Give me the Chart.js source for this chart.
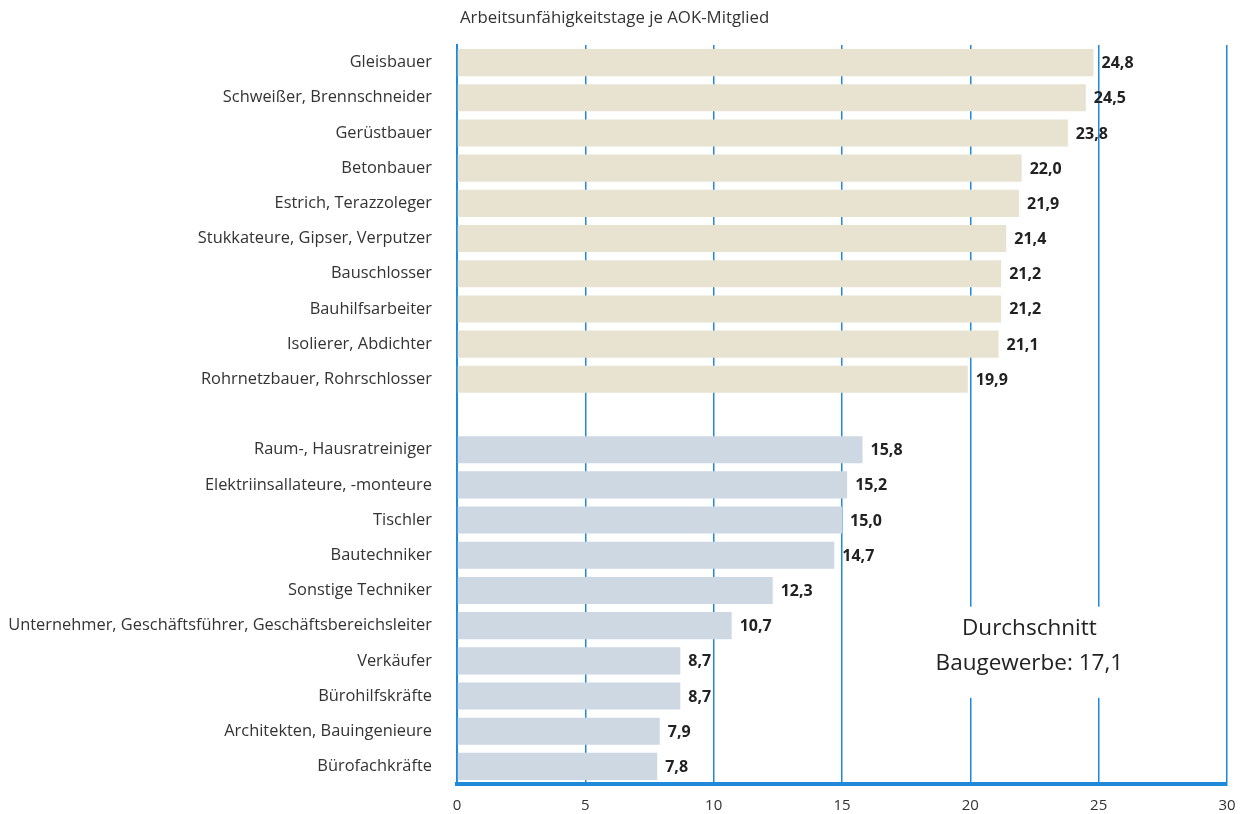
<!DOCTYPE html>
<html>
<head>
<meta charset="utf-8">
<script src="https://cdn.jsdelivr.net/npm/chart.js@4.4.0/dist/chart.umd.min.js"></script>
<style>
  html, body { margin: 0; padding: 0; background: #fff; }
  #wrap { width: 1244px; height: 814px; }
</style>
</head>
<body>
<div id="wrap"><canvas id="aokChart" width="1244" height="814"></canvas></div>
<script>
const categories = [
  "Gleisbauer",
  "Schweißer, Brennschneider",
  "Gerüstbauer",
  "Betonbauer",
  "Estrich, Terazzoleger",
  "Stukkateure, Gipser, Verputzer",
  "Bauschlosser",
  "Bauhilfsarbeiter",
  "Isolierer, Abdichter",
  "Rohrnetzbauer, Rohrschlosser",
  "",
  "Raum-, Hausratreiniger",
  "Elektriinsallateure, -monteure",
  "Tischler",
  "Bautechniker",
  "Sonstige Techniker",
  "Unternehmer, Geschäftsführer, Geschäftsbereichsleiter",
  "Verkäufer",
  "Bürohilfskräfte",
  "Architekten, Bauingenieure",
  "Bürofachkräfte"
];

// gewerbliche Berufe (oben) und Angestellte (unten)
const tradeValues = [24.8, 24.5, 23.8, 22.0, 21.9, 21.4, 21.2, 21.2, 21.1, 19.9,
  null, null, null, null, null, null, null, null, null, null, null];
const officeValues = [null, null, null, null, null, null, null, null, null, null,
  null, 15.8, 15.2, 15.0, 14.7, 12.3, 10.7, 8.7, 8.7, 7.9, 7.8];

const xTicks = [0, 5, 10, 15, 20, 25, 30];
const averageValue = 17.1;

const fontFamily = "'Open Sans', 'Noto Sans', sans-serif";
const blue = "#1f8ad9";

function fmt(v) {
  return v.toFixed(1).replace(".", ",");
}

const topTitle = {
  id: "topTitle",
  afterDraw(chart) {
    const c = chart.ctx;
    c.save();
    c.font = "16.8px " + fontFamily;
    c.fillStyle = "#333";
    c.textAlign = "left";
    c.textBaseline = "middle";
    c.fillText("Arbeitsunfähigkeitstage je AOK-Mitglied", chart.chartArea.left + 3, 18);
    c.restore();
  }
};

const averageBox = {
  id: "averageBox",
  beforeDatasetsDraw(chart) {
    const c = chart.ctx;
    const x = chart.scales.x;
    const y = chart.scales.y;
    const cx = x.getPixelForValue(22.3);
    const y1 = y.getPixelForValue(16);
    const y2 = y.getPixelForValue(17);
    c.save();
    c.fillStyle = "#fff";
    c.fillRect(cx - 110, y1 - 19, 220, y2 - y1 + 56);
    c.font = "22.5px " + fontFamily;
    c.fillStyle = "#222";
    c.textAlign = "center";
    c.textBaseline = "middle";
    c.fillText("Durchschnitt", cx, y1 + 3);
    c.fillText("Baugewerbe: " + fmt(averageValue), cx, y2 + 3);
    c.restore();
  }
};

const valueLabels = {
  id: "valueLabels",
  afterDatasetsDraw(chart) {
    const c = chart.ctx;
    c.save();
    c.font = "bold 16px " + fontFamily;
    c.fillStyle = "#222";
    c.textAlign = "left";
    c.textBaseline = "middle";
    chart.data.datasets.forEach((ds, di) => {
      const meta = chart.getDatasetMeta(di);
      meta.data.forEach((bar, i) => {
        const v = ds.data[i];
        if (v === null || v === undefined) return;
        c.fillText(fmt(v), bar.x + 8, bar.y + 1);
      });
    });
    c.restore();
  }
};

new Chart(document.getElementById("aokChart"), {
  type: "bar",
  data: {
    labels: categories,
    datasets: [
      {
        label: "Gewerblich",
        data: tradeValues,
        backgroundColor: "#e8e2d1",
        barPercentage: 0.77,
        categoryPercentage: 1,
        grouped: false
      },
      {
        label: "Angestellte",
        data: officeValues,
        backgroundColor: "#cdd8e3",
        barPercentage: 0.77,
        categoryPercentage: 1,
        grouped: false
      }
    ]
  },
  options: {
    indexAxis: "y",
    responsive: false,
    animation: false,
    layout: {
      padding: { top: 45, right: 17, bottom: 0, left: 0 }
    },
    plugins: {
      legend: { display: false },
      tooltip: { enabled: false }
    },
    scales: {
      x: {
        min: 0,
        max: 30,
        afterBuildTicks(scale) {
          scale.ticks = xTicks.map((v) => ({ value: v }));
        },
        afterFit(scale) {
          scale.height = 30;
          scale.paddingLeft = 0;
          scale.paddingRight = 0;
        },
        grid: {
          color: blue,
          lineWidth: 1.5,
          drawTicks: false
        },
        border: {
          color: blue,
          width: 4
        },
        ticks: {
          color: "#333",
          padding: 13,
          font: { family: fontFamily, size: 15 }
        }
      },
      y: {
        afterFit(scale) {
          scale.width = 457;
          scale.paddingTop = 0;
          scale.paddingBottom = 0;
        },
        grid: { display: false, drawTicks: false },
        border: {
          color: blue,
          width: 2
        },
        ticks: {
          color: "#333",
          padding: 25,
          autoSkip: false,
          font: { family: fontFamily, size: 16.4 }
        }
      }
    }
  },
  plugins: [topTitle, averageBox, valueLabels]
});
</script>
</body>
</html>
